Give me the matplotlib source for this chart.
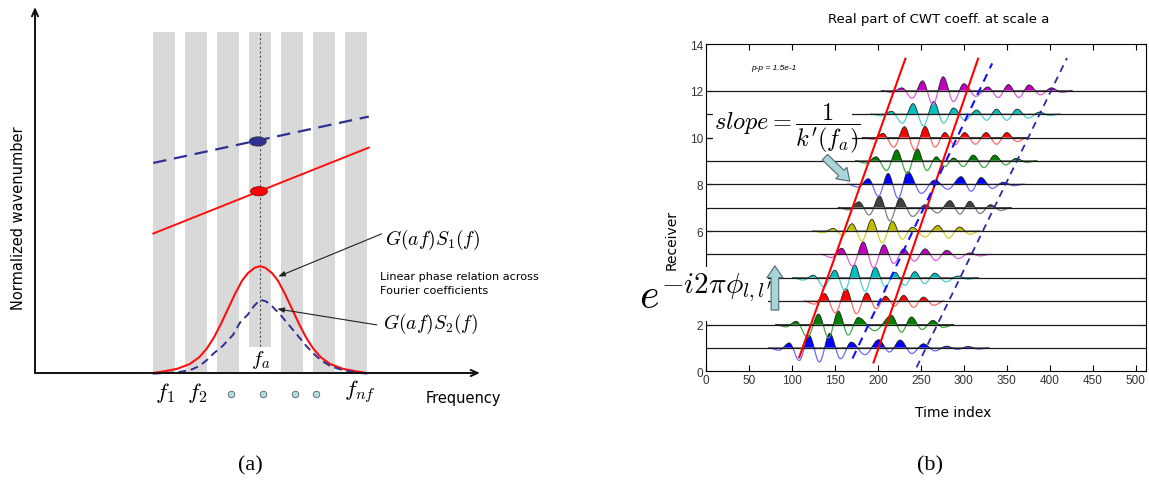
import numpy as np
import matplotlib
matplotlib.use('Agg')
import matplotlib.pyplot as plt
from matplotlib.patches import Rectangle, Ellipse

plt.rcParams['mathtext.fontset'] = 'cm'
plt.rcParams['font.family'] = ['DejaVu Sans']

W, H = 1149, 489
fig = plt.figure(figsize=(W / 100, H / 100), dpi=100)

# ------------------------------------------------------------------ data (a)
band_centers = [1, 2, 3, 4, 5, 6, 7]
band_height = 1.0
fa_pos = 4.0
line_f = [0.666, 7.40]
k_blue = [0.616, 0.752]
k_red = [0.409, 0.661]
pt_blue = (3.93, 0.679)
pt_red = (3.97, 0.533)
curve1_f = [0.66, 1.0, 1.4, 1.8, 2.1, 2.34, 2.56, 2.78, 3.0, 3.22, 3.44, 3.625, 3.84, 4.0,
            4.16, 4.375, 4.56, 4.78, 5.0, 5.22, 5.44, 5.66, 5.9, 6.2, 6.6, 7.0, 7.34]
curve1_a = [0.0, 0.005, 0.012, 0.026, 0.046, 0.072, 0.104, 0.144, 0.188, 0.232, 0.271, 0.293,
            0.309, 0.313, 0.309, 0.293, 0.271, 0.232, 0.188, 0.144, 0.104, 0.072, 0.046, 0.026,
            0.012, 0.005, 0.0]
curve2_f = [0.66, 1.0, 1.4, 1.8, 2.1, 2.34, 2.56, 2.84, 3.16, 3.375, 3.625, 3.81, 4.0,
            4.19, 4.375, 4.625, 4.84, 5.16, 5.44, 5.66, 5.9, 6.2, 6.6, 7.0, 7.34]
curve2_a = [-0.002, 0.0, 0.002, 0.008, 0.020, 0.038, 0.058, 0.080, 0.112, 0.148, 0.172, 0.196,
            0.215, 0.210, 0.196, 0.172, 0.148, 0.112, 0.080, 0.058, 0.038, 0.020, 0.008,
            0.002, -0.002]
freq_tick_pos = [1.03, 2.03, 7.125]
freq_tick_labels = [r'$f_1$', r'$f_2$', r'$f_{nf}$']
dot_pos = [3.08, 4.09, 5.09, 5.75]

# ------------------------------------------------------------------ data (b)
receivers = list(range(1, 13))
fill_colors = ['#0000FF', '#007F00', '#FF0000', '#00BFBF', '#BF00BF', '#BFBF00', '#404040']
line_colors = ['#6A6AFF', '#45A845', '#FF6A6A', '#4FD0D0', '#D860D8', '#CFCF30', '#808080']
peak_times = [
    [97, 120, 144, 169, 201, 226, 253, 280, 305],
    [105, 131, 154, 177, 216, 239, 264],
    [138, 163, 187, 209, 230, 253],
    [125, 150, 173, 197, 220, 243, 266, 293],
    [158, 183, 207, 230, 255, 280, 307],
    [148, 170, 193, 217, 240, 270, 295],
    [178, 202, 226, 255, 284, 307, 331],
    [189, 212, 235, 266, 297, 320, 346],
    [198, 222, 246, 268, 288, 311, 336, 361],
    [206, 231, 255, 278, 301, 326, 350],
    [216, 241, 265, 288, 315, 338, 362, 388],
    [228, 252, 276, 300, 328, 352, 376, 402],
]
peak_amps = [
    [0.17, 0.43, 0.50, 0.20, 0.28, 0.27, 0.14, 0.06, 0.05],
    [0.11, 0.36, 0.46, 0.24, 0.31, 0.26, 0.14],
    [0.26, 0.43, 0.28, 0.17, 0.20, 0.14],
    [0.09, 0.26, 0.44, 0.36, 0.19, 0.21, 0.16, 0.06],
    [0.21, 0.43, 0.33, 0.19, 0.19, 0.14, 0.05],
    [0.09, 0.25, 0.40, 0.33, 0.13, 0.19, 0.14],
    [0.20, 0.40, 0.33, 0.10, 0.24, 0.22, 0.10],
    [0.19, 0.37, 0.43, 0.14, 0.26, 0.23, 0.07],
    [0.14, 0.38, 0.41, 0.14, 0.10, 0.20, 0.20, 0.09],
    [0.14, 0.37, 0.38, 0.17, 0.17, 0.17, 0.17],
    [0.10, 0.36, 0.43, 0.21, 0.14, 0.17, 0.17, 0.07],
    [0.10, 0.34, 0.48, 0.24, 0.13, 0.21, 0.20, 0.10],
]
trough_amps = [
    [-0.43, -0.48, -0.37, -0.23, -0.14, -0.19, -0.10, -0.05],
    [-0.43, -0.46, -0.36, -0.21, -0.26, -0.17],
    [-0.40, -0.43, -0.26, -0.17, -0.21],
    [-0.31, -0.43, -0.46, -0.31, -0.26, -0.20, -0.14],
    [-0.40, -0.46, -0.31, -0.23, -0.21, -0.14],
    [-0.15, -0.33, -0.40, -0.28, -0.20, -0.24],
    [-0.25, -0.45, -0.30, -0.18, -0.22, -0.20],
    [-0.41, -0.48, -0.31, -0.17, -0.24, -0.14],
    [-0.33, -0.43, -0.33, -0.19, -0.19, -0.23, -0.14],
    [-0.33, -0.43, -0.33, -0.26, -0.23, -0.23],
    [-0.31, -0.40, -0.31, -0.21, -0.21, -0.21, -0.14],
    [-0.26, -0.47, -0.37, -0.19, -0.23, -0.23, -0.14],
]
lead_amps = [-0.08, -0.08, -0.10, -0.08, -0.11, -0.06, -0.08, -0.10, -0.08, -0.06, -0.06, -0.06]
trail_amps = [-0.04, -0.10, -0.14, -0.05, -0.05, -0.11, -0.10, -0.05, -0.05, -0.14, -0.05, -0.06]
display_gain = 1.25
red_line1_t, red_line1_r = [108.5, 232], [0.6, 13.37]
red_line2_t, red_line2_r = [195, 316.6], [0.38, 13.37]
blue_line1_t, blue_line1_r = [170.5, 333], [0.55, 13.17]
blue_line2_t, blue_line2_r = [245, 420], [0.17, 13.4]
x_ticks = list(range(0, 501, 50))
y_ticks = list(range(0, 15, 2))

# ================================================================== panel (a)
axL = fig.add_axes([35 / W, 1 - 374 / H, 445 / W, 366 / H])
axL.set_xlim(-3.031, 10.875)
axL.set_ylim(0, 1.0733)
axL.axis('off')

axL.bar(band_centers, band_height, width=0.67, color='#D9D9D9', zorder=1)
axL.plot([fa_pos, fa_pos], [0, band_height], color='#555555', ls=(0, (2, 2)), lw=0.8, zorder=2)
axL.plot(line_f, k_blue, color='#2E3192', ls=(0, (6, 3.5)), lw=1.6, zorder=3)
axL.plot(line_f, k_red, color='#FF1010', lw=1.4, zorder=3)
axL.add_patch(Ellipse(pt_blue, 0.53, 0.027, fc='#2E3192', ec='#333333', lw=0.6, zorder=4))
axL.add_patch(Ellipse(pt_red, 0.53, 0.027, fc='#FF0000', ec='#8A1010', lw=0.6, zorder=4))
axL.text(4.02, 0.04, r'$f_a$', fontsize=15, ha='center', va='center', zorder=2.5,
         bbox=dict(fc='white', ec='none', pad=1.0))
axL.plot(curve1_f, curve1_a, color='#FF1010', lw=1.5, zorder=3, clip_on=False)
axL.plot(curve2_f, curve2_a, color='#2E3192', ls=(0, (4, 2.5)), lw=1.4, zorder=3, clip_on=False)

axL.annotate('', xy=(10.875, 0), xytext=(-3.031, 0),
             arrowprops=dict(arrowstyle='->,head_length=0.5,head_width=0.22', lw=1.4,
                             color='#111111', shrinkA=0, shrinkB=0), annotation_clip=False)
axL.annotate('', xy=(-3.031, 1.0733), xytext=(-3.031, 0),
             arrowprops=dict(arrowstyle='->,head_length=0.5,head_width=0.22', lw=1.4,
                             color='#111111', shrinkA=0, shrinkB=0), annotation_clip=False)

for p, lab in zip(freq_tick_pos, freq_tick_labels):
    axL.text(p, -0.055, lab, fontsize=16.5, ha='center', va='center')
axL.scatter(dot_pos, [-0.062] * len(dot_pos), s=22, c='#B8DCDC', edgecolors='#4A6A6A',
            linewidths=0.6, clip_on=False, zorder=5)

axL.text(-3.56, 0.457, 'Normalized wavenumber', rotation=90, ha='center', va='center', fontsize=10.5)
axL.text(10.34, -0.073, 'Frequency', ha='center', va='center', fontsize=10.5)

axL.text(7.9, 0.393, r'$G(af)S_1(f)$', fontsize=14, ha='left', va='center')
axL.text(7.83, 0.147, r'$G(af)S_2(f)$', fontsize=14, ha='left', va='center')
axL.text(7.75, 0.264, 'Linear phase relation across\nFourier coefficients', fontsize=8.1,
         ha='left', va='center', linespacing=1.45)
axL.annotate('', xy=(4.57, 0.283), xytext=(7.80, 0.408),
             arrowprops=dict(arrowstyle='-|>,head_length=0.4,head_width=0.15', lw=0.8,
                             color='#222222', shrinkA=0, shrinkB=0))
axL.annotate('', xy=(4.54, 0.188), xytext=(7.65, 0.141),
             arrowprops=dict(arrowstyle='-|>,head_length=0.4,head_width=0.15', lw=0.8,
                             color='#222222', shrinkA=0, shrinkB=0))


# ================================================================== panel (b)
def trace_curve(pt, pa, ta, lead, trail):
    ts = [pt[0] - 24, pt[0] - 12]
    am = [0.0, lead]
    for j in range(len(pt)):
        ts.append(pt[j])
        am.append(pa[j])
        if j < len(pt) - 1:
            ts.append((pt[j] + pt[j + 1]) / 2)
            am.append(ta[j])
    ts += [pt[-1] + 12, pt[-1] + 24]
    am += [trail, 0.0]
    xs, ys = [], []
    for k in range(len(ts) - 1):
        s = np.linspace(0, 1, 20, endpoint=False)
        w = (1 - np.cos(np.pi * s)) / 2
        xs.append(ts[k] + (ts[k + 1] - ts[k]) * s)
        ys.append(am[k] + (am[k + 1] - am[k]) * w)
    xs.append([ts[-1]])
    ys.append([am[-1]])
    return np.concatenate(xs), np.concatenate(ys)


axR = fig.add_axes([706 / W, 1 - 372.3 / H, 440 / W, 327.3 / H])
axR.set_xlim(0, 512)
axR.set_ylim(0, 14)
axR.set_xticks(x_ticks)
axR.set_yticks(y_ticks)
axR.tick_params(direction='in', top=True, right=True, length=4, width=0.8,
                labelsize=8.5, labelcolor='#333333', pad=2)
for lab in axR.get_xticklabels() + axR.get_yticklabels():
    lab.set_family('Liberation Sans')
for sp in axR.spines.values():
    sp.set_linewidth(0.8)

for i, r in enumerate(receivers):
    x, a = trace_curve(peak_times[i], peak_amps[i], trough_amps[i], lead_amps[i], trail_amps[i])
    a = a * display_gain
    fc = fill_colors[i % 7]
    lc = line_colors[i % 7]
    axR.fill_between(x, r, r + a, where=a > 0, interpolate=True, color=fc, lw=0, zorder=2)
    axR.plot(x, r + np.minimum(a, 0), color=lc, lw=0.9, zorder=2)
    axR.plot(x, r + np.maximum(a, 0), color='#222222', lw=0.6, zorder=2)
axR.hlines(receivers, 0, 512, color='#1A1A1A', lw=0.9, zorder=3)

axR.plot(red_line1_t, red_line1_r, color='#FF0000', lw=1.5, zorder=4)
axR.plot(red_line2_t, red_line2_r, color='#FF0000', lw=1.5, zorder=4)
axR.plot(blue_line1_t, blue_line1_r, color='#1010FF', lw=1.5, ls=(0, (4, 3)), zorder=4)
axR.plot(blue_line2_t, blue_line2_r, color='#2A2AA0', lw=1.3, ls=(0, (4, 3)), zorder=4)

axR.text(53, 13.0, 'p-p = 1.5e-1', fontsize=6, style='italic', family='Liberation Sans',
         va='center', ha='left')

# white patches with formulas
axR.add_patch(Rectangle((8, 9.45), 162, 2.2, fc='white', ec='none', zorder=5))
axR.text(9, 10.45, r'$slope = \dfrac{1}{k^{\prime}(f_a)}$', fontsize=17.5, ha='left', va='center',
         zorder=6)
axR.add_patch(Rectangle((-79, 2.15), 151, 2.31, fc='white', ec='none', zorder=5, clip_on=False))
axR.text(-78, 3.2, r'$e^{-i2\pi\phi_{l,l^{\prime}}}$', fontsize=30, ha='left', va='center',
         zorder=6, clip_on=False)

axR.annotate('', xy=(167.4, 8.13), xytext=(138.4, 9.16),
             arrowprops=dict(arrowstyle='simple,head_length=0.85,head_width=1.15,tail_width=0.55',
                             fc='#A9D4DA', ec='#4F6A6E', lw=0.8, mutation_scale=10,
                             shrinkA=0, shrinkB=0), zorder=7)
axR.annotate('', xy=(80.2, 4.51), xytext=(80.2, 2.62),
             arrowprops=dict(arrowstyle='simple,head_length=0.85,head_width=1.15,tail_width=0.55',
                             fc='#A9D4DA', ec='#4F6A6E', lw=0.8, mutation_scale=10,
                             shrinkA=0, shrinkB=0), zorder=7, annotation_clip=False)

fig.text(939 / W, 1 - 19 / H, 'Real part of CWT coeff. at scale a', ha='center', va='center',
         fontsize=9.5)
fig.text(953 / W, 1 - 413 / H, 'Time index', ha='center', va='center', fontsize=10)
fig.text(672 / W, 1 - 240 / H, 'Receiver', ha='center', va='center', fontsize=10, rotation=90)

fig.text(250 / W, 1 - 466 / H, '(a)', ha='center', va='center', fontsize=16, family='Liberation Serif')
fig.text(930 / W, 1 - 466 / H, '(b)', ha='center', va='center', fontsize=16, family='Liberation Serif')

fig.savefig('out.png', dpi=100)
